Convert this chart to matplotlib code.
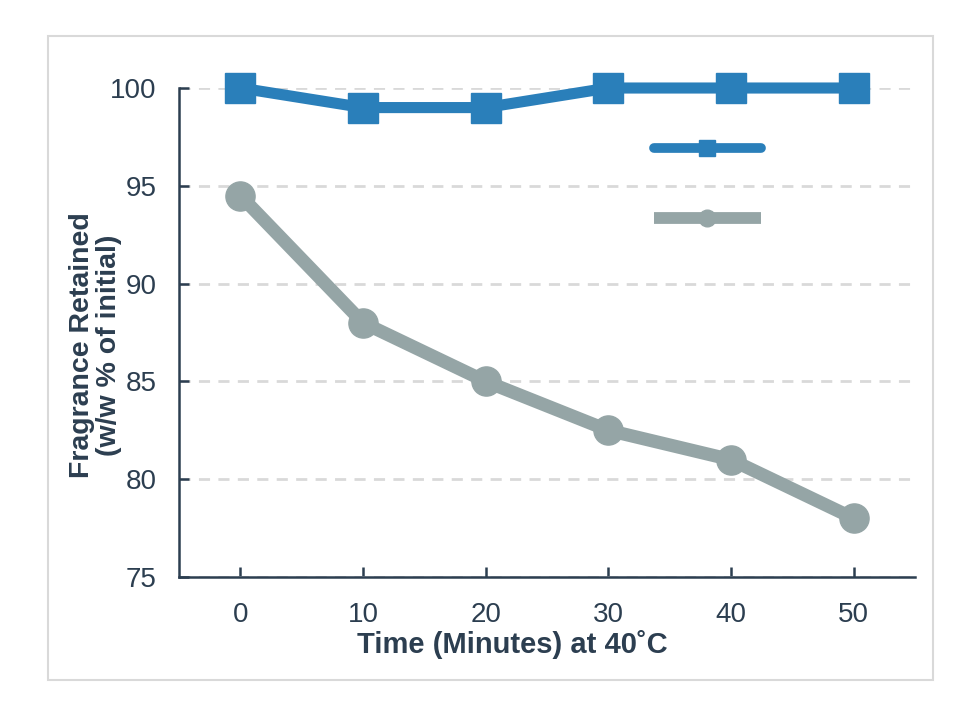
import matplotlib.pyplot as plt
from matplotlib.lines import Line2D
from matplotlib.patches import Rectangle

# Data
time_min = [0, 10, 20, 30, 40, 50]
encapsulated = [100, 99, 99, 100, 100, 100]
free_oil = [94.5, 88, 85, 82.5, 81, 78]
x_ticks = [0, 10, 20, 30, 40, 50]
y_ticks = [75, 80, 85, 90, 95, 100]

blue = '#2a7fba'
gray = '#95a5a6'
ink = '#2c3e50'

plt.rcParams['font.family'] = ['Liberation Sans', 'DejaVu Sans']

fig = plt.figure(figsize=(9.64, 7.25), dpi=100)
ax = fig.add_axes([0.1857, 0.2041, 0.7635, 0.6745])

# outer frame
fig.patches.append(Rectangle((0.05, 0.062), 0.918, 0.889, transform=fig.transFigure,
                             fill=False, edgecolor='#d9d9d9', linewidth=1.5))

ax.plot(time_min, encapsulated, color=blue, lw=8, marker='s', ms=21,
        solid_joinstyle='round', clip_on=False, zorder=4)
ax.plot(time_min, free_oil, color=gray, lw=9.5, marker='o', ms=21,
        clip_on=False, zorder=3)

ax.set_xlim(-5, 55)
ax.set_ylim(75, 100)
ax.set_xticks(x_ticks)
ax.set_yticks(y_ticks)
ax.yaxis.grid(True, color='#d9d9d9', linestyle=(0, (4, 3)), linewidth=2)
ax.set_axisbelow(True)

for s in ['top', 'right']:
    ax.spines[s].set_visible(False)
for s in ['left', 'bottom']:
    ax.spines[s].set_color(ink)
    ax.spines[s].set_linewidth(1.8)

ax.tick_params(direction='in', length=7, width=1.8, color=ink, labelcolor=ink)
ax.tick_params(axis='y', labelsize=20, pad=16)
ax.tick_params(axis='x', labelsize=20, pad=18)

ax.set_xlabel('Time (Minutes) at 40˚C', fontsize=21, fontweight='bold', color=ink)
ax.xaxis.set_label_coords(0.4524, -0.108)
ax.set_ylabel('Fragrance Retained\n(w/w % of initial)', fontsize=20.5, fontweight='bold',
              color=ink, linespacing=1.05)
ax.yaxis.set_label_coords(-0.078, 0.474)

handles = [
    Line2D([], [], color=blue, lw=7, marker='s', ms=12, solid_capstyle='round'),
    Line2D([], [], color=gray, lw=8.5, marker='o', ms=12, solid_capstyle='butt'),
]
leg = ax.legend(handles, ['', ''], loc='upper left', bbox_to_anchor=(0.628, 0.924),
                frameon=False, fontsize=18, handlelength=4.3, labelspacing=1.84,
                handletextpad=0, borderpad=0)

fig.savefig('out.png', dpi=100)
